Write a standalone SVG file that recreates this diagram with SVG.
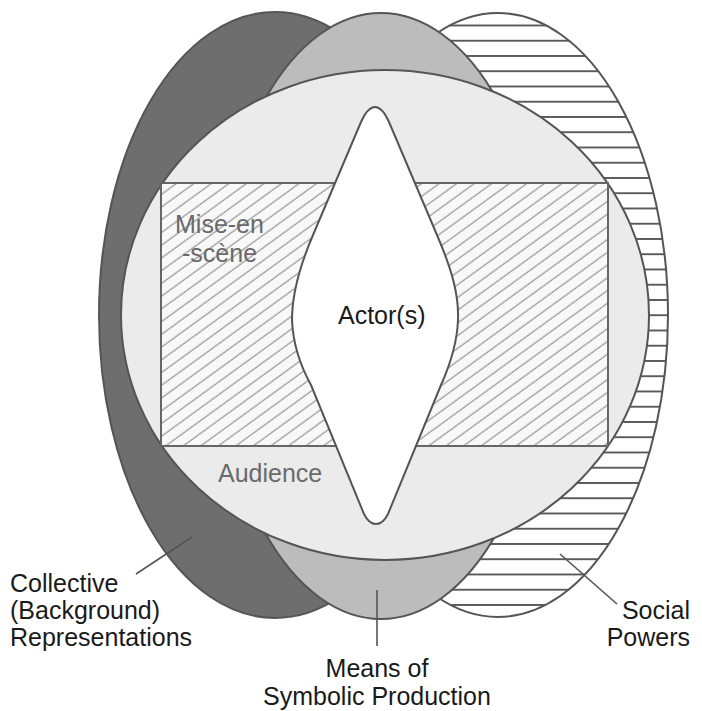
<svg xmlns="http://www.w3.org/2000/svg" width="702" height="711" viewBox="0 0 702 711">
<style>
.outline{stroke:#555;stroke-width:2;}
.lbl{font-family:"Liberation Sans",Arial,sans-serif;font-size:25px;fill:#1a1a1a;}
.inner{font-family:"Liberation Sans",Arial,sans-serif;font-size:25px;fill:#6a6a6a;}
.ptr{stroke:#555;stroke-width:1.6;fill:none;}
</style>
<defs>
<pattern id="hstripes" patternUnits="userSpaceOnUse" x="0" y="2.6" width="40" height="15.25">
<rect width="40" height="15.25" fill="#fff"/>
<line x1="0" y1="7.6" x2="40" y2="7.6" stroke="#5a5a5a" stroke-width="2"/>
</pattern>
<pattern id="hatch" patternUnits="userSpaceOnUse" width="40" height="10.3" patternTransform="rotate(-36)">
<rect width="40" height="10.3" fill="#f8f8f8"/>
<line x1="0" y1="5" x2="40" y2="5" stroke="#7a7a7a" stroke-width="1"/>
</pattern>
</defs>
<rect width="702" height="711" fill="#fff"/>
<g id="collective">
<ellipse cx="275" cy="315" rx="176" ry="303" fill="#6e6e6e" class="outline"/>
</g>
<g id="social">
<ellipse cx="498" cy="315" rx="170" ry="302" fill="url(#hstripes)" class="outline"/>
</g>
<g id="means">
<ellipse cx="381" cy="316" rx="166" ry="303" fill="#bcbcbc" class="outline"/>
</g>
<g id="audience">
<ellipse cx="385" cy="315" rx="264" ry="245" fill="#ebebeb" class="outline"/>
<text class="inner" x="218" y="482">Audience</text>
</g>
<g id="mise-en-scene">
<rect x="161" y="183" width="447" height="263" fill="url(#hatch)" stroke="#666" stroke-width="2"/>
<text class="inner" x="175" y="233">Mise-en</text>
<text class="inner" x="182" y="262">-scène</text>
</g>
<g id="actors">
<path d="M375,107 C381,107 385,113 389,122 L437,235 C452,270 459,295 458,320 C457,345 450,365 441,385 L388,514 C384,522 380,524 376,524 C372,524 368,522 364,514 L311,385 C300,365 293,345 292,320 C292,295 298,270 313,235 L361,122 C365,113 369,107 375,107 Z" fill="#fff" class="outline"/>
<text class="lbl" x="338" y="324" fill="#111">Actor(s)</text>
</g>
<g id="connectors">
<line class="ptr" x1="136" y1="574" x2="192" y2="537"/>
<line class="ptr" x1="377" y1="590" x2="377" y2="646"/>
<line class="ptr" x1="560" y1="554" x2="617" y2="604"/>
</g>
<g id="labels">
<text class="lbl" x="10" y="592">Collective</text>
<text class="lbl" x="10" y="619">(Background)</text>
<text class="lbl" x="10" y="646">Representations</text>
<text class="lbl" x="377" y="677" text-anchor="middle">Means of</text>
<text class="lbl" x="377" y="705" text-anchor="middle">Symbolic Production</text>
<text class="lbl" x="690" y="619" text-anchor="end">Social</text>
<text class="lbl" x="690" y="646" text-anchor="end">Powers</text>
</g>
</svg>
